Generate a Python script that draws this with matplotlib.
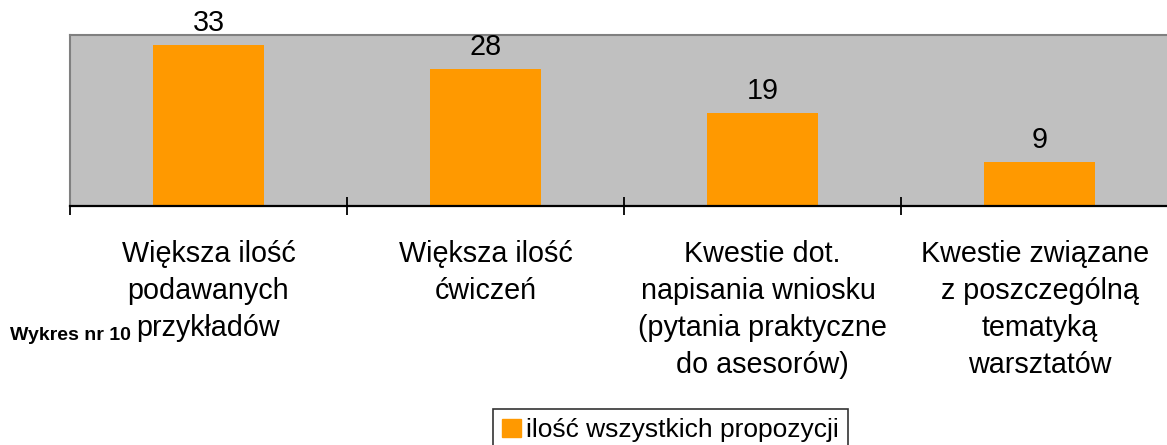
import numpy as np
import matplotlib.pyplot as plt
from matplotlib.patches import Patch

plt.rcParams['font.family'] = ['Liberation Sans', 'DejaVu Sans']

# data
categories = [
    "Większa ilość\npodawanych\nprzykładów",
    "Większa ilość\nćwiczeń",
    "Kwestie dot.\nnapisania wniosku \n(pytania praktyczne\ndo asesorów)",
    "Kwestie związane \nz poszczególną\ntematyką\nwarsztatów",
]
values = [33, 28, 19, 9]
series_name = "ilość wszystkich propozycji"
chart_note = "Wykres nr 10"

BAR_COLOR = "#FF9900"
PLOT_BG = "#C0C0C0"

W, H, DPI = 1167, 445, 100
fig = plt.figure(figsize=(W / DPI, H / DPI), dpi=DPI)

# plot area runs a bit past the right edge, like in the source
ax = fig.add_axes([70 / W, 1 - 206 / H, 1108 / W, 171 / H])
ax.set_facecolor(PLOT_BG)

x = np.arange(len(categories))
ax.bar(x, values, width=0.4, color=BAR_COLOR, zorder=2)
ax.set_xlim(-0.5, len(categories) - 0.5)
ax.set_ylim(0, 35)

for xi, v in zip(x, values):
    ax.annotate(str(v), xy=(xi, v), xytext=(0, 8), textcoords="offset pixels",
                ha="center", va="bottom", fontsize=20.7)

# category labels, one line at a time so the line pitch stays even
for xi, label in zip(x, categories):
    for i, line in enumerate(label.split("\n")):
        ax.annotate(line, xy=(xi, 0), xytext=(0, -(56 + 37 * i)),
                    textcoords="offset pixels", ha="center", va="baseline",
                    fontsize=20.7, annotation_clip=False)

ax.set_xticks(np.arange(len(categories) + 1) - 0.5)
ax.set_xticklabels([])
ax.set_yticks([])
ax.tick_params(axis="x", direction="inout", length=13, width=1.3, color="black")

for side in ("top", "left", "right"):
    ax.spines[side].set_color("#808080")
    ax.spines[side].set_linewidth(1.5)
ax.spines["bottom"].set_color("black")
ax.spines["bottom"].set_linewidth(1.6)
ax.spines["bottom"].set_zorder(3)

fig.text(10 / W, 1 - 340 / H, chart_note, fontsize=14, fontweight="bold",
         ha="left", va="baseline")

leg = fig.legend([Patch(color=BAR_COLOR)], [series_name],
                 loc="upper left", bbox_to_anchor=(493 / W, 1 - 409 / H),
                 fontsize=19, frameon=True, fancybox=False, shadow=False,
                 handlelength=0.7, handleheight=0.7, handletextpad=0.2,
                 borderpad=0.35, borderaxespad=0)
leg.get_frame().set_edgecolor("black")
leg.get_frame().set_linewidth(1.2)

fig.savefig("out.png", dpi=DPI)
